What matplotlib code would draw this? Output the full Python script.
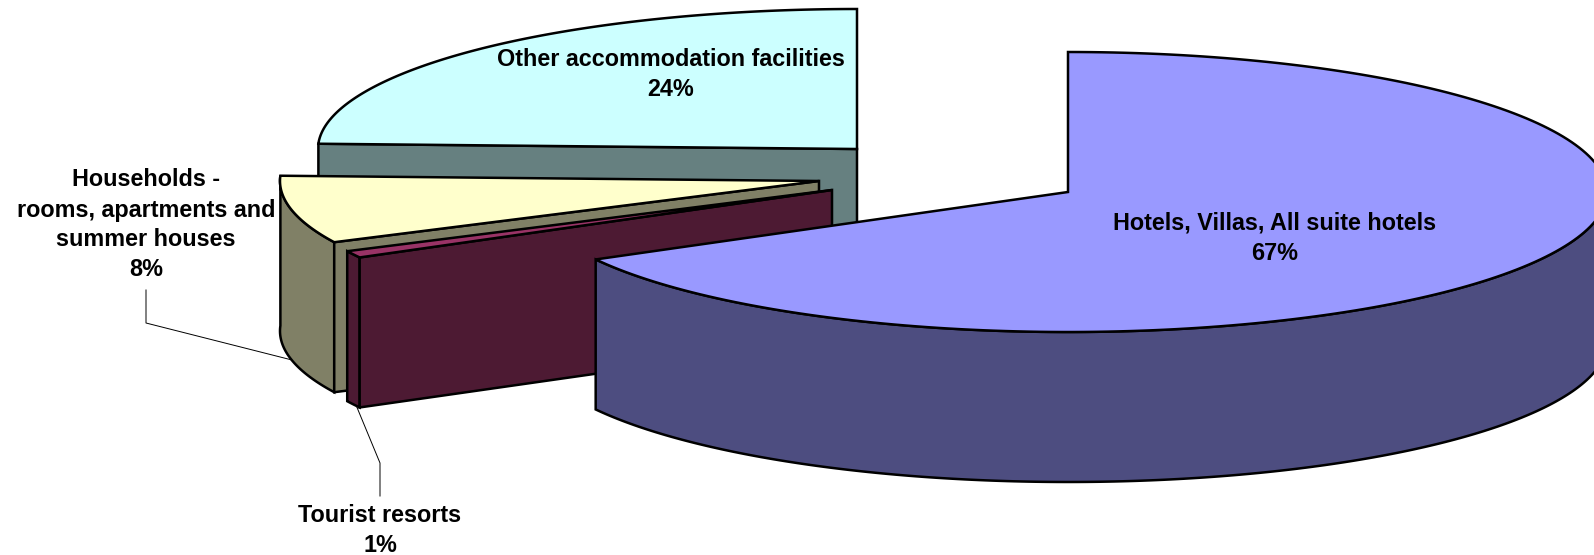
import numpy as np
import matplotlib
matplotlib.use('Agg')
import matplotlib.pyplot as plt

# Shares, clockwise from 12 o'clock.
categories = ['Hotels, Villas, All suite hotels', 'Tourist resorts',
              'Households -\nrooms, apartments and\nsummer houses',
              'Other accommodation facilities']
shares = [67.0, 0.8, 7.8, 24.4]

top_colors = ['#9999FF', '#993366', '#FFFFCC', '#CCFFFF']
side_colors = ['#4D4D80', '#4D1A33', '#808066', '#668080']

# exploded slice apex in pixels
centers = [(1068, 192), (832, 190), (819, 181), (857, 149)]
label_pos = [(1275, 223), (380, 516), (146, 180), (671, 59)]

rx, ry, depth = 539, 140, 150
edge = 1.8


def arc(c, a0, a1):
    t = np.radians(np.linspace(a0, a1, 200))
    return np.column_stack([c[0] + rx * np.sin(t), c[1] - ry * np.cos(t)])


def face(ax, pts, color, z):
    ax.fill(pts[:, 0], pts[:, 1], facecolor=color, edgecolor='black',
            linewidth=edge, joinstyle='miter', zorder=z)


def wall(ax, pts, color, z):
    low = pts[::-1] + [0, depth]
    face(ax, np.vstack([pts, low]), color, z)


fig = plt.figure(figsize=(15.94, 5.55), dpi=100)
ax = fig.add_axes([0, 0, 1, 1])
ax.set_xlim(0, 1594)
ax.set_ylim(555, 0)
ax.axis('off')

# leader lines
ax.plot([146, 146, 292], [290, 323, 360], color='black', lw=0.7, zorder=1)
ax.plot([356, 380, 380], [405, 463, 496], color='black', lw=0.7, zorder=1)

ends = np.cumsum(shares) * 3.6
starts = ends - np.array(shares) * 3.6

# painted back to front
for i, z in zip([3, 2, 1, 0], [2, 3, 4, 5]):
    c = np.array(centers[i], dtype=float)
    a0, a1 = starts[i], ends[i]
    rim = arc(c, a0, a1)
    if i == 3:
        # cut face looking to the viewer, from the left point to the apex
        wall(ax, np.vstack([rim[:1], c[None]]), side_colors[i], z)
    elif i == 0:
        wall(ax, arc(c, 90, a1), side_colors[i], z)
    else:
        wall(ax, rim, side_colors[i], z)
        wall(ax, np.vstack([c[None], rim[:1]]), side_colors[i], z)
    face(ax, np.vstack([c[None], rim]), top_colors[i], z + 0.5)

for name, share, pos in zip(categories, shares, label_pos):
    lines = name.split('\n') + [f'{round(share)}%']
    for k, line in enumerate(lines):
        ax.text(pos[0], pos[1] + k * 30, line, ha='center', va='center',
                family='Liberation Sans', fontweight='bold', fontsize=16.8,
                color='black', zorder=10)

fig.savefig('out.png', dpi=100)
